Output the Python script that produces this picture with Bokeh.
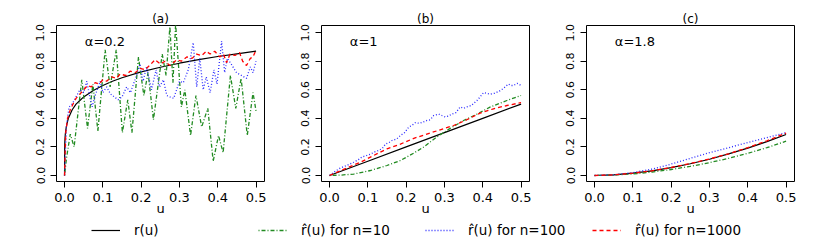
import numpy as np
from bokeh.plotting import figure
from bokeh.models import Range1d, FixedTicker, PrintfTickFormatter, Label, Legend, LegendItem
from bokeh.layouts import column, row
from bokeh.embed import file_html
from bokeh.resources import INLINE

# ---------------- data ----------------
x_ticks = [0.0, 0.1, 0.2, 0.3, 0.4, 0.5]
y_ticks = [0.0, 0.2, 0.4, 0.6, 0.8, 1.0]
panel_titles = ["(a)", "(b)", "(c)"]
alpha_labels = ["\u03b1=0.2", "\u03b1=1", "\u03b1=1.8"]
legend_labels = ["r(u)", "r\u0302(u) for n=10", "r\u0302(u) for n=100", "r\u0302(u) for n=1000"]

# panel (a), alpha = 0.2
a_true_u = [0, 0.0005, 0.001, 0.002, 0.004, 0.006, 0.01, 0.015, 0.02, 0.03, 0.04, 0.05, 0.075,
            0.1, 0.125, 0.15, 0.2, 0.25, 0.3, 0.35, 0.4, 0.45, 0.5]
a_true_r = [0, 0.22, 0.25, 0.29, 0.33, 0.36, 0.40, 0.43, 0.46, 0.50, 0.525, 0.55, 0.595,
            0.63, 0.66, 0.684, 0.725, 0.758, 0.786, 0.811, 0.833, 0.852, 0.871]
a_n10_u = [0, 0.005, 0.015, 0.025, 0.045, 0.06, 0.074, 0.087, 0.106, 0.119, 0.135, 0.151, 0.165,
           0.176, 0.193, 0.207, 0.218, 0.232, 0.255, 0.265, 0.275, 0.283, 0.29, 0.305, 0.314,
           0.329, 0.343, 0.358, 0.374, 0.388, 0.402, 0.414, 0.433, 0.447, 0.461, 0.477, 0.492, 0.5]
a_n10_r = [0.0, 0.12, 0.29, 0.20, 0.67, 0.33, 0.64, 0.31, 0.88, 0.62, 0.88, 0.30, 0.53,
           0.30, 0.83, 0.56, 0.72, 0.39, 0.85, 0.70, 1.04, 0.65, 1.06, 0.48, 0.60,
           0.28, 0.56, 0.34, 0.47, 0.10, 0.28, 0.16, 0.70, 0.47, 0.68, 0.28, 0.58, 0.45]
a_n100_u = [0, 0.005, 0.012, 0.02, 0.03, 0.04, 0.05, 0.058, 0.066, 0.072, 0.08, 0.093, 0.1,
            0.11, 0.12, 0.13, 0.14, 0.15, 0.162, 0.172, 0.184, 0.197, 0.205, 0.214, 0.227,
            0.239, 0.248, 0.258, 0.267, 0.275, 0.285, 0.3, 0.31, 0.323, 0.336, 0.345, 0.353,
            0.362, 0.37, 0.38, 0.39, 0.398, 0.41, 0.418, 0.425, 0.435, 0.449, 0.462, 0.475,
            0.485, 0.492, 0.5]
a_n100_r = [0.0, 0.35, 0.48, 0.50, 0.55, 0.60, 0.58, 0.66, 0.55, 0.48, 0.56, 0.66, 0.58,
            0.62, 0.57, 0.55, 0.53, 0.55, 0.62, 0.58, 0.67, 0.78, 0.66, 0.76, 0.60,
            0.74, 0.62, 0.67, 0.56, 0.55, 0.54, 0.66, 0.65, 0.74, 0.93, 0.62, 0.82,
            0.60, 0.69, 0.58, 0.74, 0.64, 0.94, 0.72, 0.82, 0.78, 0.72, 0.70, 0.68,
            0.76, 0.72, 0.80]
a_n1000_u = [0, 0.003, 0.008, 0.015, 0.022, 0.03, 0.04, 0.05, 0.06, 0.07, 0.08, 0.09, 0.1,
             0.11, 0.123, 0.135, 0.145, 0.16, 0.171, 0.185, 0.197, 0.21, 0.222, 0.236, 0.25,
             0.262, 0.275, 0.293, 0.305, 0.319, 0.333, 0.345, 0.358, 0.37, 0.38, 0.392, 0.405,
             0.415, 0.423, 0.432, 0.445, 0.457, 0.465, 0.475, 0.485, 0.492, 0.5]
a_n1000_r = [0.0, 0.30, 0.40, 0.46, 0.50, 0.54, 0.57, 0.60, 0.63, 0.62, 0.65, 0.64, 0.67,
             0.66, 0.69, 0.68, 0.71, 0.70, 0.73, 0.72, 0.75, 0.74, 0.77, 0.81, 0.78,
             0.80, 0.77, 0.81, 0.80, 0.83, 0.82, 0.85, 0.84, 0.87, 0.85, 0.87, 0.83,
             0.85, 0.79, 0.85, 0.84, 0.86, 0.80, 0.77, 0.82, 0.83, 0.88]

# panel (b), alpha = 1
b_true_u = [0, 0.1, 0.2, 0.3, 0.4, 0.5]
b_true_r = [0, 0.1, 0.2, 0.3, 0.4, 0.5]
b_n10_u = [0, 0.03, 0.063, 0.107, 0.15, 0.185, 0.22, 0.246, 0.28, 0.315, 0.35, 0.385, 0.42, 0.463, 0.5]
b_n10_r = [0, 0.003, 0.01, 0.035, 0.07, 0.105, 0.157, 0.2, 0.27, 0.33, 0.385, 0.43, 0.48, 0.525, 0.56]
b_n100_u = [0, 0.015, 0.029, 0.045, 0.063, 0.075, 0.085, 0.097, 0.107, 0.118, 0.128, 0.138,
            0.146, 0.155, 0.163, 0.175, 0.185, 0.196, 0.207, 0.215, 0.224, 0.235, 0.245,
            0.254, 0.263, 0.272, 0.285, 0.293, 0.302, 0.31, 0.319, 0.33, 0.341, 0.35, 0.358,
            0.37, 0.385, 0.393, 0.402, 0.41, 0.42, 0.43, 0.443, 0.454, 0.467, 0.474, 0.48, 0.49, 0.5]
b_n100_r = [0, 0.03, 0.054, 0.07, 0.093, 0.11, 0.13, 0.14, 0.15, 0.165, 0.175, 0.19,
            0.22, 0.23, 0.245, 0.255, 0.28, 0.3, 0.34, 0.35, 0.37, 0.365, 0.375,
            0.385, 0.39, 0.42, 0.43, 0.42, 0.41, 0.415, 0.43, 0.44, 0.48, 0.47, 0.48,
            0.49, 0.525, 0.55, 0.58, 0.575, 0.57, 0.575, 0.59, 0.61, 0.64, 0.63, 0.63, 0.645, 0.63]
b_n1000_u = [0, 0.046, 0.081, 0.115, 0.15, 0.185, 0.22, 0.254, 0.289, 0.324, 0.358, 0.393, 0.428, 0.463, 0.5]
b_n1000_r = [0, 0.054, 0.093, 0.14, 0.187, 0.22, 0.26, 0.29, 0.32, 0.35, 0.39, 0.437, 0.467, 0.49, 0.51]

# panel (c), alpha = 1.8
c_u = [0, 0.05, 0.1, 0.15, 0.2, 0.25, 0.3, 0.35, 0.4, 0.45, 0.5]
c_true_r = [0, 0.0045, 0.016, 0.033, 0.055, 0.082, 0.114, 0.151, 0.192, 0.237, 0.287]
c_n10_r = [0, 0.003, 0.011, 0.024, 0.042, 0.064, 0.09, 0.12, 0.155, 0.195, 0.24]
c_n100_r = [0, 0.005, 0.02, 0.045, 0.08, 0.12, 0.16, 0.195, 0.23, 0.265, 0.30]
c_n1000_r = [0, 0.0045, 0.016, 0.033, 0.056, 0.084, 0.116, 0.152, 0.195, 0.243, 0.297]

# ---------------- styling ----------------
FONT = "DejaVu Sans"
styles = [
    dict(line_color="black", line_width=1.2, line_dash="solid"),
    dict(line_color="#228B22", line_width=1.3, line_dash="1 2 4 2"),
    dict(line_color="#2b2bff", line_width=1.3, line_dash="1 2"),
    dict(line_color="red", line_width=1.3, line_dash="4 3"),
]


def make_panel(title, alpha_text, series, left_border):
    p = figure(frame_width=208, frame_height=156, output_backend="svg", toolbar_location=None,
               x_range=Range1d(-0.021, 0.522), y_range=Range1d(-0.042, 1.05),
               min_border_left=left_border, min_border_right=9, min_border_top=25,
               min_border_bottom=35,
               background_fill_color="white", border_fill_color="white")
    p.grid.visible = False
    p.outline_line_color = "black"
    p.outline_line_alpha = 1.0
    p.outline_line_width = 1

    p.title.text = title
    p.title.align = "center"
    p.title.text_font = FONT
    p.title.text_font_size = "12px"
    p.title.text_font_style = "normal"
    p.title.text_color = "black"
    p.title.standoff = 0

    for ax in (p.xaxis[0], p.yaxis[0]):
        ax.axis_line_color = None
        ax.major_tick_in = 0
        ax.major_tick_out = 6
        ax.major_tick_line_color = "black"
        ax.minor_tick_line_color = None
        ax.major_label_text_font = FONT
        ax.major_label_text_color = "black"
        ax.formatter = PrintfTickFormatter(format="%.1f")

    p.xaxis.ticker = FixedTicker(ticks=x_ticks)
    p.yaxis.ticker = FixedTicker(ticks=y_ticks)
    p.xaxis.major_label_text_font_size = "13px"
    p.xaxis.major_label_standoff = 5
    p.xaxis.axis_label = "u"
    p.xaxis.axis_label_text_font = FONT
    p.xaxis.axis_label_text_font_size = "13px"
    p.xaxis.axis_label_text_font_style = "normal"
    p.xaxis.axis_label_text_color = "black"
    p.xaxis.axis_label_standoff = -4

    p.yaxis.major_label_text_font_size = "11px"
    p.yaxis.major_label_orientation = "vertical"
    p.yaxis.major_label_standoff = 6

    for (u, r), st in zip(series, styles):
        p.line(x=u, y=r, **st)

    p.add_layout(Label(x=0.053, y=0.94, text=alpha_text, text_align="left", text_baseline="middle",
                       text_font=FONT, text_font_size="13px", text_color="black"))
    return p


pa = make_panel(panel_titles[0], alpha_labels[0],
                [(a_true_u, a_true_r), (a_n10_u, a_n10_r), (a_n100_u, a_n100_r), (a_n1000_u, a_n1000_r)], 56)
pb = make_panel(panel_titles[1], alpha_labels[1],
                [(b_true_u, b_true_r), (b_n10_u, b_n10_r), (b_n100_u, b_n100_r), (b_n1000_u, b_n1000_r)], 48)
pc = make_panel(panel_titles[2], alpha_labels[2],
                [(c_u, c_true_r), (c_u, c_n10_r), (c_u, c_n100_r), (c_u, c_n1000_r)], 48)

# legend strip (dummy renderers only provide the legend samples)
leg = figure(width=803, height=24, output_backend="svg", toolbar_location=None, min_border=0,
             x_axis_location=None, y_axis_location=None,
             x_range=Range1d(0, 1), y_range=Range1d(0, 1))
leg.grid.visible = False
leg.outline_line_color = None
items = []
for lab, st in zip(legend_labels, styles):
    rr = leg.line(x=np.array([np.nan]), y=np.array([np.nan]), **st)
    items.append(LegendItem(label=lab, renderers=[rr]))
legend = Legend(items=items, orientation="horizontal", location=(91, 4),
                glyph_width=29, glyph_height=14, label_standoff=14, label_width=124,
                label_height=14, spacing=0, padding=0, margin=0,
                border_line_color=None, background_fill_alpha=0,
                label_text_font=FONT, label_text_font_size="13.5px", label_text_color="black")
leg.add_layout(legend)

layout = column(row(pa, pb, pc), leg)
open("out.html", "w").write(file_html(layout, INLINE))
